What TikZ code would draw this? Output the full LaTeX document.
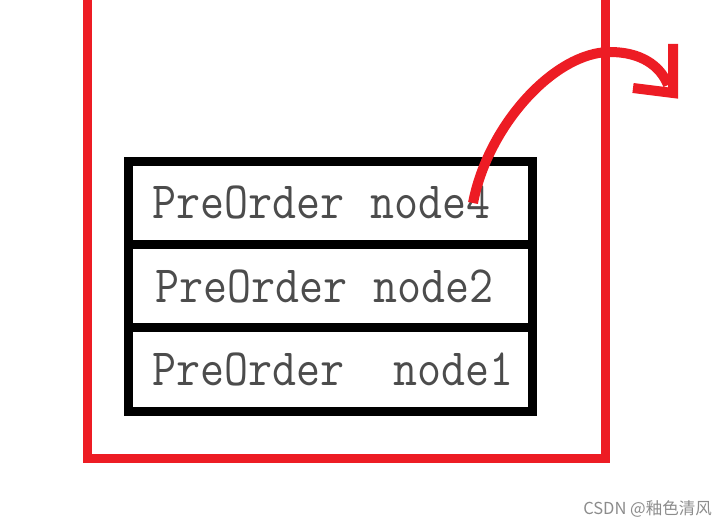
\documentclass[tikz,border=0pt]{standalone}
\usepackage{fontspec}
\newfontfamily\cjk{Noto Sans CJK SC}
\usetikzlibrary{
  positioning, % Für relative Platzierung
  arrows.meta % Für Pfeilspitzen
}
\definecolor{paintred}{HTML}{ED1C24}
\newcommand{\rowtext}[1]{\scalebox{1.04}[1.17]{#1}}

\begin{document}
\begin{tikzpicture}[
      x=1pt, y=-1pt, % Pixelkoordinaten
      frame/.style={paintred, line width=9pt}, % Roter Rahmen
      stackrow/.style={draw, line width=9pt, outer sep=0pt,
        minimum width=404pt, minimum height=83.3pt,
        inner xsep=24pt, text width=356pt, align=left,
        text=black!70, font=\ttfamily\fontsize{44.8}{50}\selectfont}, % Stapelzeile
      stroke/.style={paintred, line width=10pt, line join=miter}, % Freihandpfeil
    ]

    % Bildgröße
    \useasboundingbox (0,0) rectangle (727,527);

    % Rahmen
    \draw[frame] (87,-10) -- (87,458) -- (605,458) -- (605,-10);

    % Stapel
    \node[stackrow] (row1) at (330.25,202.75) {\rowtext{PreOrder\hspace{25pt}node4}};
    \node[stackrow, below=0pt of row1] (row2) {\rowtext{\hspace{3pt}PreOrder\hspace{25pt}node2}};
    \node[stackrow, below=0pt of row2] (row3) {\rowtext{PreOrder\hspace{47pt}node1}};

    % Pfeil
    \coordinate (tail) at (473,203);
    \coordinate (tip) at (673,93);
    \draw[stroke] (tail) .. controls (488,125) and (555,52) .. (610,52)
      .. controls (640,52) and (660,65) .. (668,85);
    \draw[stroke] (673,44) -- (tip) -- (633,88);

    % Wasserzeichen
    \node[anchor=base east, inner sep=0pt, text=black!45,
      font=\cjk\fontsize{16.5}{18}\selectfont] (mark) at (712,514) {CSDN @釉色清风};

  \end{tikzpicture}
\end{document}
